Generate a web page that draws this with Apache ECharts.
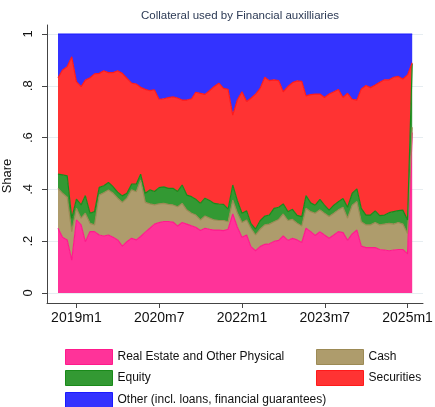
<!DOCTYPE html>
<html><head><meta charset="utf-8">
<script src="https://cdn.jsdelivr.net/npm/echarts@6/dist/echarts.min.js"></script>
<style>html,body{margin:0;padding:0;background:#fff}#c{width:435px;height:407px}</style>
</head><body><div id="c"></div>
<script>
// Months 2018m9 .. 2025m2 (78 monthly observations)
const startYear = 2018, startMonth = 9, nMonths = 78;
const months = [], monthTimes = [];
for (let k = 0; k < nMonths; k++) {
  const t = startMonth - 1 + k, y = startYear + Math.floor(t / 12), m = t % 12;
  months.push(y + 'm' + (m + 1)); monthTimes.push(Date.UTC(y, m, 1));
}
const xTickLabels = ['2019m1', '2020m7', '2022m1', '2023m7', '2025m1'];
const yTickValues = [0, 0.2, 0.4, 0.6, 0.8, 1];

const realEstate = [.25,.215,.205,.127,.282,.263,.198,.237,.237,.224,.22,.224,.215,.205,.181,.198,.211,.205,.218,.235,
  .25,.266,.272,.276,.276,.274,.259,.272,.266,.259,.254,.241,.25,.246,.243,.243,.241,.246,.305,.255,
  .215,.224,.179,.163,.179,.188,.19,.199,.203,.22,.203,.211,.205,.195,.25,.237,.222,.237,.224,.211,
  .224,.237,.233,.203,.228,.243,.181,.175,.175,.175,.168,.166,.163,.166,.168,.168,.151,.62];
const cash = [.154,.17,.165,.11,.045,.026,.11,.032,.026,.154,.167,.174,.17,.161,.169,.168,.187,.186,.218,.115,
  .094,.074,.072,.07,.066,.066,.074,.074,.054,.049,.047,.041,.047,.043,.039,.037,.039,.029,.054,.055,
  .057,.058,.071,.061,.067,.075,.076,.076,.081,.085,.077,.073,.064,.064,.077,.077,.086,.084,.084,.084,
  .084,.084,.098,.086,.111,.11,.094,.088,.088,.097,.095,.1,.106,.1,.104,.098,.079,.02];
const equity = [.055,.071,.082,.051,.035,.051,.068,.039,.051,.03,.027,.029,.025,.023,.025,.019,.022,.029,.023,.035,
  .054,.052,.063,.064,.062,.064,.059,.071,.058,.064,.061,.064,.069,.068,.064,.063,.062,.049,.058,.047,
  .036,.035,.019,.023,.033,.034,.035,.052,.047,.039,.034,.039,.031,.036,.049,.034,.031,.04,.031,.025,
  .031,.031,.034,.042,.046,.049,.052,.038,.038,.045,.036,.035,.041,.048,.046,.054,.052,.245];
const securities = [.372,.405,.422,.624,.454,.457,.446,.523,.532,.44,.444,.424,.441,.469,.473,.444,.39,.387,.335,.401,
  .383,.392,.341,.34,.35,.353,.361,.328,.367,.378,.413,.425,.401,.425,.451,.467,.448,.462,.27,.388,
  .469,.422,.483,.521,.511,.536,.519,.496,.489,.433,.483,.489,.519,.522,.385,.418,.429,.407,.416,.448,
  .438,.434,.39,.44,.363,.343,.461,.5,.492,.486,.515,.522,.513,.519,.518,.506,.56,.004];
const other = [.169,.139,.126,.088,.184,.203,.178,.169,.154,.152,.142,.149,.149,.142,.152,.171,.19,.193,.206,.214,
  .219,.216,.252,.25,.246,.243,.247,.255,.255,.25,.225,.229,.233,.218,.203,.19,.21,.214,.313,.255,
  .223,.261,.248,.232,.21,.167,.18,.177,.18,.223,.203,.188,.181,.183,.239,.234,.232,.232,.245,.232,
  .223,.214,.245,.229,.252,.255,.212,.199,.207,.197,.186,.177,.177,.167,.164,.174,.158,.111];

const seriesNames = ['Real Estate and Other Physical', 'Cash', 'Equity', 'Securities', 'Other (incl. loans, financial guarantees)'];
const seriesValues = [realEstate, cash, equity, securities, other];
const fills = ['#ff3399', '#ae9c6c', '#339933', '#ff3333', '#3333ff'];
const lines = ['#ff1a8c', '#9c8a55', '#1a8a1a', '#ff1a1a', '#1a1aff'];

const FONT = '"Liberation Sans", Arial, sans-serif';
const DAY = 86400000;
const chart = echarts.init(document.getElementById('c'), null, { renderer: 'canvas' });

const series = seriesNames.map((name, s) => ({
  name, type: 'line', stack: 'total', symbol: 'none', smooth: false, xAxisIndex: 0,
  data: seriesValues[s].map((v, i) => [monthTimes[i], v]),
  itemStyle: { color: fills[s] },
  lineStyle: { color: lines[s], width: 1.2 },
  areaStyle: { color: fills[s], opacity: 1 },
  emphasis: { disabled: true },
  z: 2
}));

// legend: one component per entry, laid out in two columns like the original
const legendPos = [[60, 344], [311, 344], [60, 365], [311, 365], [60, 387]];
const legends = seriesNames.map((name, s) => ({
  left: legendPos[s][0], top: legendPos[s][1], itemWidth: 47, itemHeight: 15, icon: 'rect',
  selectedMode: false, itemGap: 0,
  textStyle: { fontFamily: FONT, fontSize: 12, color: '#111' },
  data: [{ name, itemStyle: { color: fills[s], borderColor: lines[s], borderWidth: 1 } }]
}));

const xTickIdx = xTickLabels.map(m => months.indexOf(m));

chart.setOption({
  backgroundColor: '#fff',
  animation: false,
  title: {
    text: 'Collateral used by Financial auxilliaries', left: 235, textAlign: 'center', top: 5,
    textStyle: { fontFamily: FONT, fontSize: 11.5, fontWeight: 'normal', color: '#2b3954' }
  },
  legend: legends,
  grid: { left: 47, right: 12, top: 25, bottom: 104, containLabel: false, outerBoundsMode: 'none' },
  xAxis: [{
    // data axis (time), hidden: the label axis below draws line, ticks and labels
    type: 'time', show: false, position: 'bottom', min: monthTimes[0] - 72.8 * DAY, max: monthTimes[nMonths - 1] + 71.5 * DAY,
    axisLine: { onZero: false }, splitLine: { show: false }
  }, {
    // label axis: month index, same extent
    type: 'value', position: 'bottom', offset: 0, min: -2.39, max: 79.35,
    axisLine: { show: true, onZero: false, lineStyle: { color: '#444', width: 1 } },
    axisTick: { show: true, length: 5, lineStyle: { color: '#444' }, customValues: xTickIdx },
    axisLabel: { customValues: xTickIdx, formatter: v => months[Math.round(v)],
      fontFamily: FONT, fontSize: 14, color: '#111', margin: 8 },
    splitLine: { show: false }
  }],
  yAxis: {
    type: 'value', min: -0.0386, max: 1.0347,
    name: 'Share', nameLocation: 'middle', nameGap: 9, nameRotate: 90,
    nameTextStyle: { fontFamily: FONT, fontSize: 13, color: '#111', padding: [0, 24, 0, 0] },
    axisLine: { show: true, onZero: false, lineStyle: { color: '#444', width: 1 } },
    axisTick: { show: true, length: 5, lineStyle: { color: '#444' }, customValues: yTickValues },
    axisLabel: { customValues: yTickValues, rotate: 90, fontFamily: FONT, fontSize: 13, color: '#111', margin: 12,
      formatter: v => (Math.abs(v) < 1e-9 ? '0' : (Math.abs(v - 1) < 1e-9 ? '1' : String(Math.round(v * 10) / 10).replace(/^0/, ''))) },
    splitLine: { show: true, lineStyle: { color: '#e6edf1', width: 1 } }
  },
  series
});
</script>
</body></html>
